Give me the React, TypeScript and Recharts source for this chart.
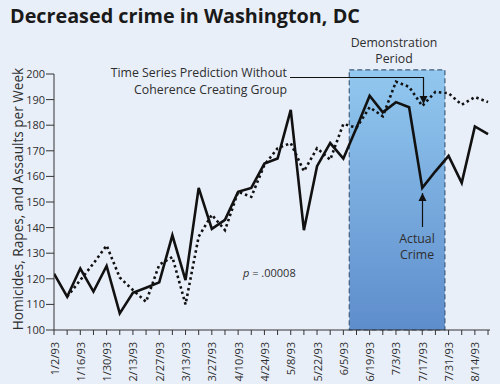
import { LineChart, Line, XAxis, YAxis, ReferenceArea } from "recharts";

// weekly dates, 1/2/93 through 8/21/93
const weeks = [
  "1/2/93", "1/9/93", "1/16/93", "1/23/93", "1/30/93", "2/6/93", "2/13/93", "2/20/93",
  "2/27/93", "3/6/93", "3/13/93", "3/20/93", "3/27/93", "4/3/93", "4/10/93", "4/17/93",
  "4/24/93", "5/1/93", "5/8/93", "5/15/93", "5/22/93", "5/29/93", "6/5/93", "6/12/93",
  "6/19/93", "6/26/93", "7/3/93", "7/10/93", "7/17/93", "7/24/93", "7/31/93", "8/7/93",
  "8/14/93", "8/21/93",
];

const actual = [
  122, 113, 124, 115, 125, 106.5, 114.5, 116.5, 118.6, 137, 119.5, 155.5, 139.5, 143,
  154, 155.5, 165, 167, 186, 139, 164, 173, 167, 179, 191.5, 185, 189, 187, 155.5, 162,
  168, 157.5, 179.5, 176.5,
];

const predicted = [
  null, 113, 119.5, 126, 133, 120.5, 115.6, 111, 125.5, 128.5, 110, 136.5, 145, 139,
  154, 152, 164.5, 171, 173, 162, 171, 166.5, 180.5, 179, 187, 183.5, 197, 195, 187.5,
  193, 192.5, 188, 191, 189,
];

const yTicks = [100, 110, 120, 130, 140, 150, 160, 170, 180, 190, 200];

// demonstration period, in weeks from 1/2/93
const demoStart = 22.45;
const demoEnd = 29.72;

const data = weeks.map((w, i) => ({ i, week: w, actual: actual[i], predicted: predicted[i] }));

const FONT = "'Open Sans', 'Noto Sans', sans-serif";
const TEXT = "#2e2e2e";

const XTick = (props: any) => {
  const { x, y, payload } = props;
  const i = payload.value as number;
  if (i % 2 !== 0) return null;
  return (
    <text
      x={x}
      y={y + 5}
      transform={`rotate(-90 ${x} ${y + 5})`}
      textAnchor="end"
      dominantBaseline="central"
      fontSize={11}
      fontFamily={FONT}
      fill={TEXT}
    >
      {weeks[i]}
    </text>
  );
};

export default function App() {
  return (
    <div style={{ position: "absolute", left: 0, top: 0, width: 500, height: 384, background: "#e9eff9" }}>
      <LineChart
        width={500}
        height={384}
        data={data}
        margin={{ top: 74, right: 10, left: 0, bottom: 0 }}
      >
        <defs>
          <linearGradient id="demo" x1="0" y1="0" x2="0" y2="1">
            <stop offset="0%" stopColor="#92c8ef" />
            <stop offset="100%" stopColor="#5e8dcc" />
          </linearGradient>
        </defs>
        <XAxis
          dataKey="i"
          type="number"
          domain={[0, 33.15]}
          ticks={weeks.map((_, i) => i)}
          interval={0}
          tick={<XTick />}
          tickSize={5}
          stroke="#333"
          height={54}
          allowDataOverflow
        />
        <YAxis
          type="number"
          domain={[100, 200]}
          ticks={yTicks}
          interval={0}
          width={54}
          tickSize={8}
          tickMargin={1}
          stroke="#333"
          tick={{ fontSize: 11, fontFamily: FONT, fill: TEXT }}
        />
        <ReferenceArea
          x1={demoStart}
          x2={demoEnd}
          y1={100}
          y2={201.6}
          ifOverflow="visible"
          fill="url(#demo)"
          fillOpacity={1}
          stroke="#3d5b7c"
          strokeWidth={1.2}
          strokeDasharray="5 3"
        />
        <Line
          dataKey="predicted"
          stroke="#111"
          strokeWidth={2.6}
          strokeDasharray="2.5 3"
          dot={false}
          isAnimationActive={false}
          connectNulls={false}
          type="linear"
        />
        <Line
          dataKey="actual"
          stroke="#111"
          strokeWidth={2.6}
          dot={false}
          isAnimationActive={false}
          type="linear"
        />
      </LineChart>
      <svg
        width={500}
        height={384}
        style={{ position: "absolute", left: 0, top: 0, pointerEvents: "none" }}
        fontFamily={FONT}
      >
        <defs>
          <marker id="ah" viewBox="0 0 10 10" refX="10" refY="5" markerWidth="7" markerHeight="8" orient="auto">
            <path d="M0,0 L10,5 L0,10 z" fill="#111" />
          </marker>
        </defs>
        <text x={10} y={23} fontSize={19.8} fontWeight={700} fill="#1a1a1a">
          Decreased crime in Washington, DC
        </text>
        <text
          transform="translate(17 199) rotate(-90)"
          textAnchor="middle"
          fontSize={13.6}
          fill={TEXT}
          dominantBaseline="central"
        >
          Homicides, Rapes, and Assaults per Week
        </text>
        <text x={394} y={46.5} textAnchor="middle" fontSize={12.3} fill={TEXT}>Demonstration</text>
        <text x={394} y={63} textAnchor="middle" fontSize={12.3} fill={TEXT}>Period</text>
        <text x={287} y={77} textAnchor="end" fontSize={12.3} fill={TEXT}>Time Series Prediction Without</text>
        <text x={287} y={93.5} textAnchor="end" fontSize={12.3} fill={TEXT}>Coherence Creating Group</text>
        <path d="M290,77.5 H423.5 V104" stroke="#111" strokeWidth={1.2} fill="none" markerEnd="url(#ah)" />
        <text x={417} y={242.5} textAnchor="middle" fontSize={12.3} fill={TEXT}>Actual</text>
        <text x={417} y={259} textAnchor="middle" fontSize={12.3} fill={TEXT}>Crime</text>
        <path d="M422.5,227 V193" stroke="#111" strokeWidth={1.2} fill="none" markerEnd="url(#ah)" />
        <text x={243} y={277} fontSize={11} fill={TEXT}>
          <tspan fontStyle="italic">p</tspan> = .00008
        </text>
      </svg>
    </div>
  );
}
